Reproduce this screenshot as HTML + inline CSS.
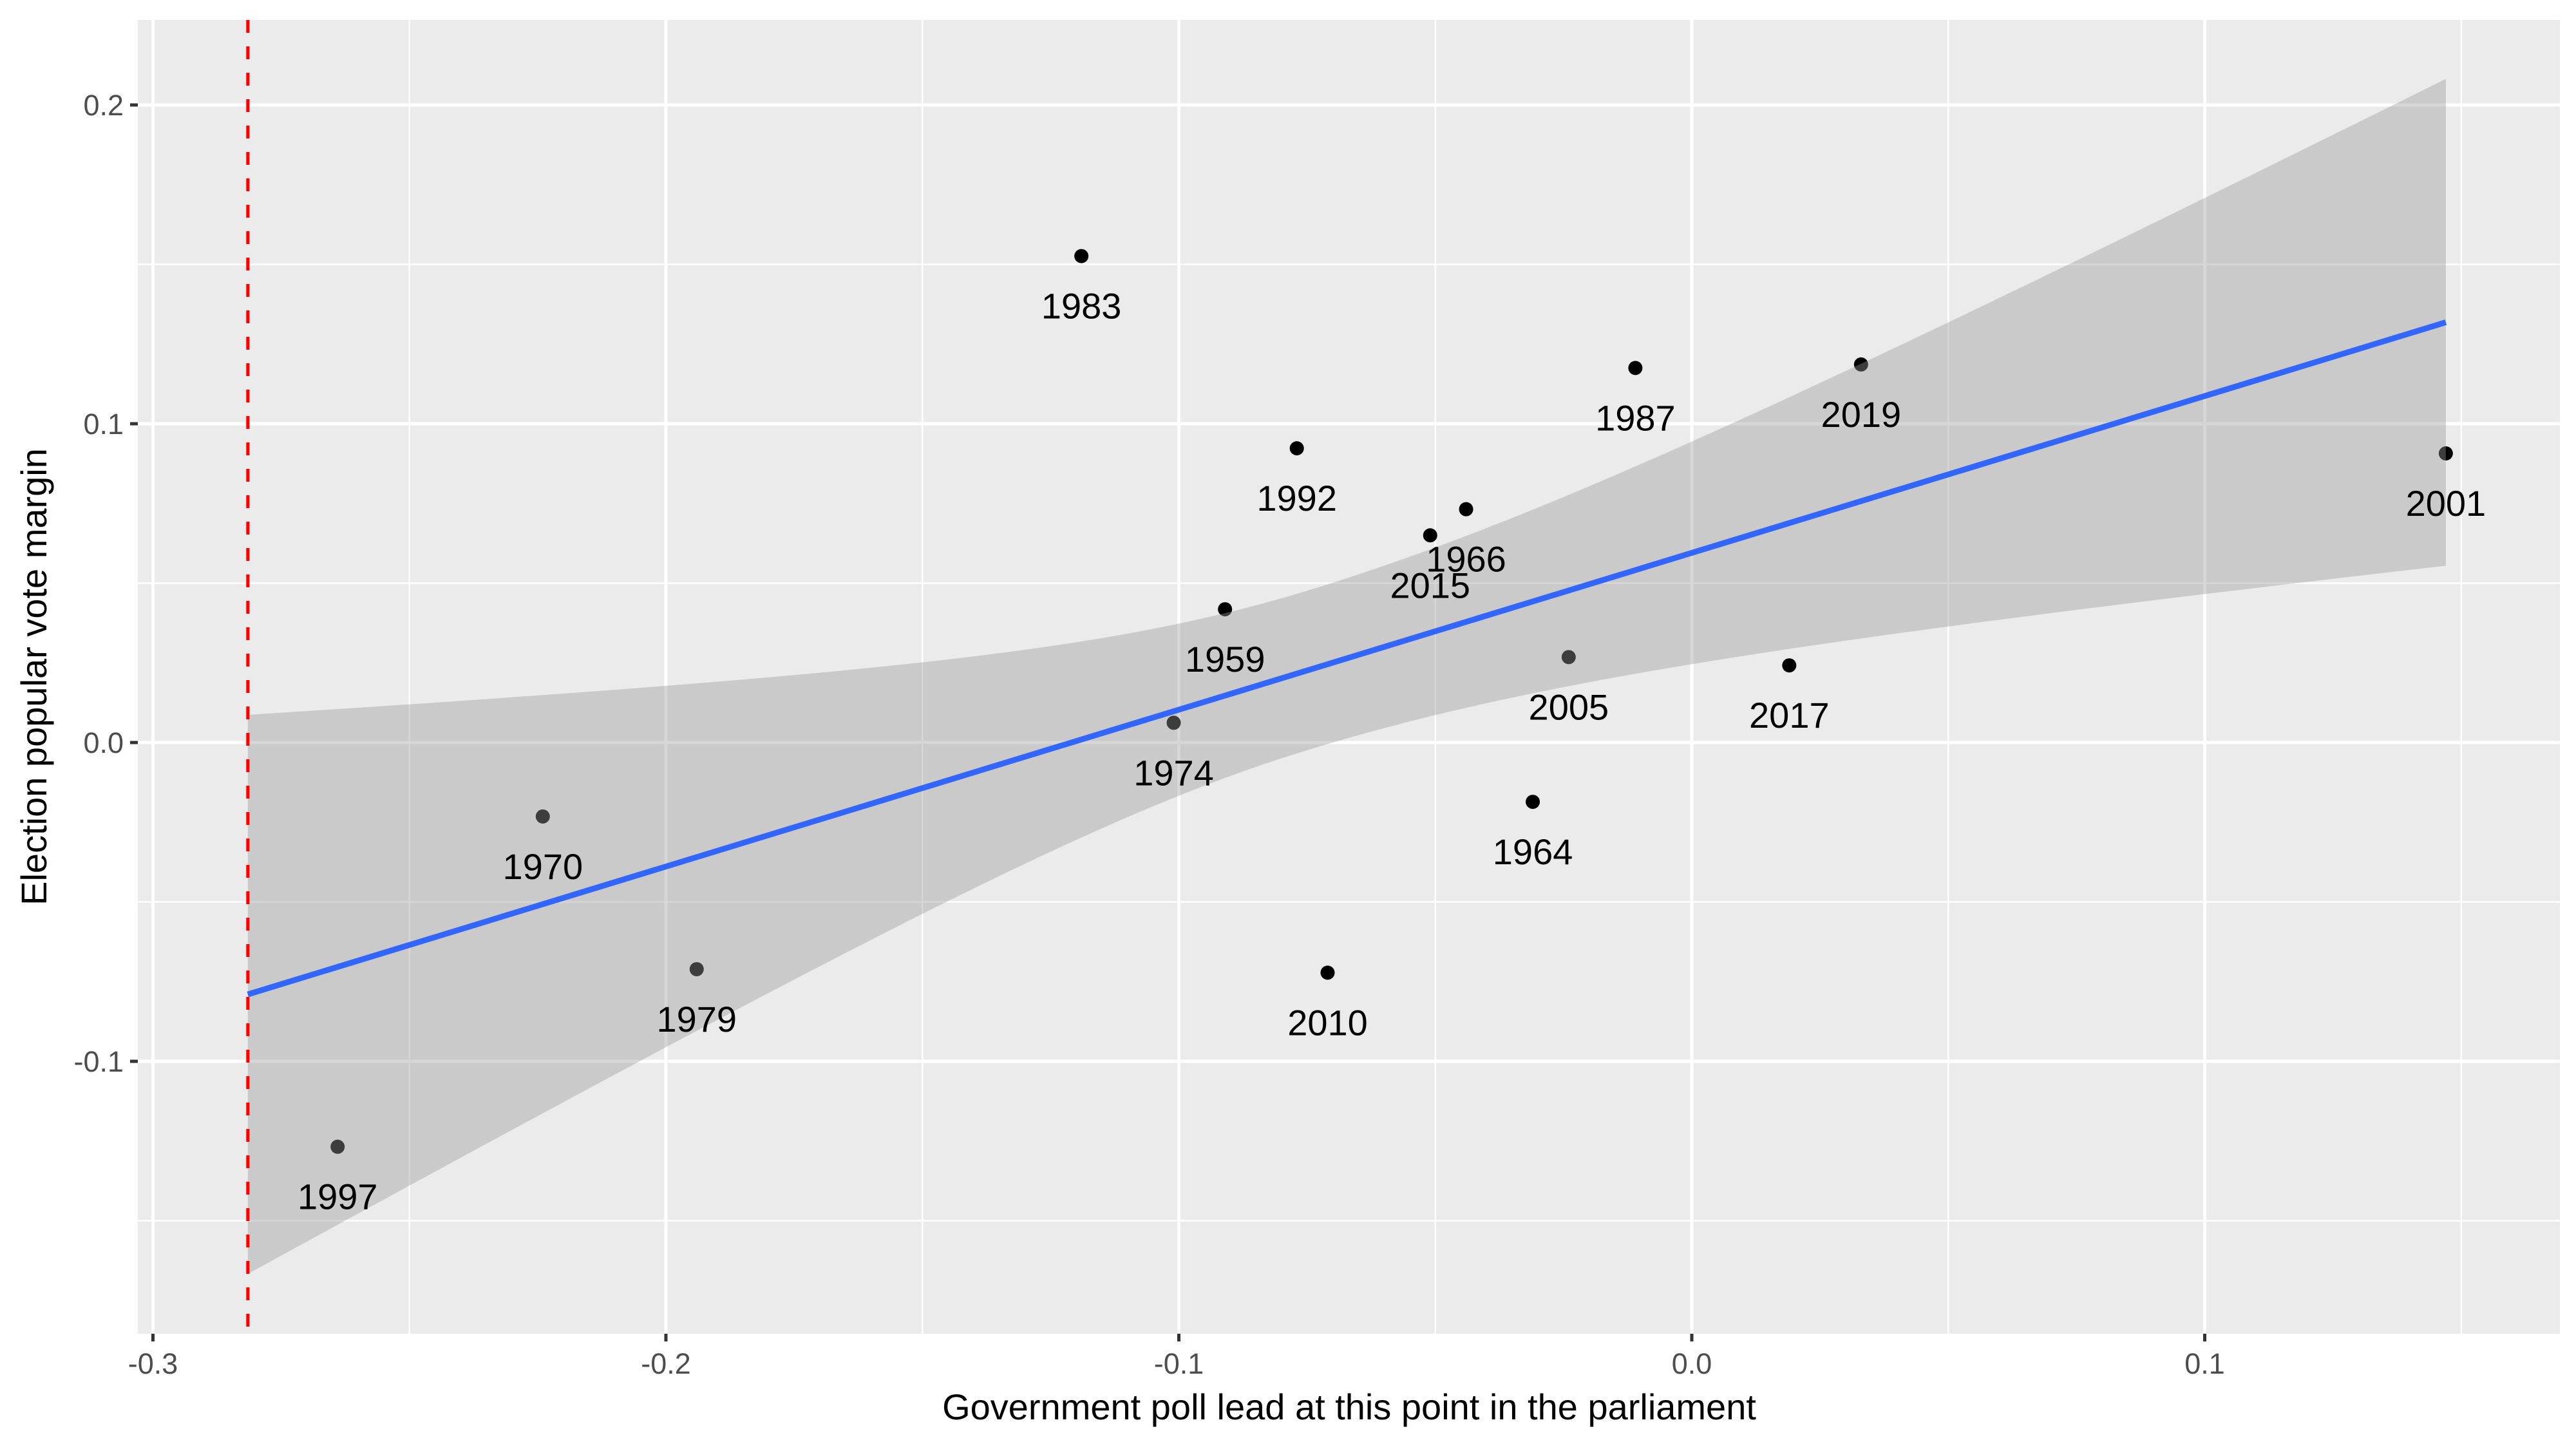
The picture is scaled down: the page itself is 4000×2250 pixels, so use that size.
<!DOCTYPE html>
<html><head><meta charset="utf-8"><style>
body{margin:0;background:#fff}
svg{display:block;font-family:"Liberation Sans",sans-serif}
</style></head><body>
<svg id="chart" width="4000" height="2250" viewBox="0 0 4000 2250">
<rect x="214" y="31" width="3761" height="2040" fill="#EBEBEB"/>
<g id="grid"></g>
<g id="points"></g>
<g id="fit"></g>
<g id="labels"></g>
<g id="axes"></g>
<text x="2095" y="2204" font-size="56" text-anchor="middle" fill="#000">Government poll lead at this point in the parliament</text>
<text transform="translate(72,1051) rotate(-90)" font-size="56" text-anchor="middle" fill="#000">Election popular vote margin</text>
</svg>
<script>
const years = ["1983","1987","2019","1992","2001","1966","2015","1959","2005","2017","1974","1964","1970","1979","2010","1997"];
const pollLead = [-0.119,-0.011,0.033,-0.077,0.147,-0.044,-0.051,-0.091,-0.024,0.019,-0.101,-0.031,-0.224,-0.194,-0.071,-0.264];
const voteMargin = [0.1526,0.1175,0.1186,0.0923,0.0907,0.0732,0.065,0.0418,0.0268,0.0242,0.0062,-0.0186,-0.0232,-0.0711,-0.0722,-0.1268];
const xTicks = [-0.3,-0.2,-0.1,0.0,0.1];
const xTickLabels = ["-0.3","-0.2","-0.1","0.0","0.1"];
const xMinor = [-0.25,-0.15,-0.05,0.05,0.15];
const yTicks = [-0.1,0.0,0.1,0.2];
const yTickLabels = ["-0.1","0.0","0.1","0.2"];
const yMinor = [-0.15,-0.05,0.05,0.15];
const vlineX = [-0.2815];
const fitRange = [-0.2815,0.147];
const fitCoef = [0.0595,0.492];
const bandParams = [-0.075,0.025,0.407,0.325];

const NS="http://www.w3.org/2000/svg";
const PL=214,PR=3975,PT=31,PB=2071;
const sx=v=>2627+v*7965;
const sy=v=>1153-v*4950;
function mk(tag,attrs,parent){const e=document.createElementNS(NS,tag);for(const k in attrs)e.setAttribute(k,attrs[k]);parent.appendChild(e);return e;}
const grid=document.getElementById('grid');
xMinor.forEach(v=>{const e=mk('line',{x1:sx(v),x2:sx(v),y1:PT,y2:PB,stroke:'#fff','stroke-width':2.5},grid);

});
yMinor.forEach(v=>{const e=mk('line',{x1:PL,x2:PR,y1:sy(v),y2:sy(v),stroke:'#fff','stroke-width':2.5},grid);

});
xTicks.forEach(v=>{const e=mk('line',{x1:sx(v),x2:sx(v),y1:PT,y2:PB,stroke:'#fff','stroke-width':5},grid);

});
yTicks.forEach(v=>{const e=mk('line',{x1:PL,x2:PR,y1:sy(v),y2:sy(v),stroke:'#fff','stroke-width':5},grid);

});

const pts=document.getElementById('points');
pollLead.forEach((x,i)=>{const c=mk('circle',{cx:sx(x),cy:sy(voteMargin[i]),r:11,fill:'#000'},pts);

});

const fit=document.getElementById('fit');
const line=x=>fitCoef[0]+fitCoef[1]*x;
const hw=x=>{const c=x<bandParams[0]?bandParams[2]:bandParams[3];return Math.sqrt(bandParams[1]**2+(c*(x-bandParams[0]))**2);};
let up=[],lo=[];
for(let k=0;k<=80;k++){const x=fitRange[0]+(fitRange[1]-fitRange[0])*k/80;up.push(sx(x)+','+sy(line(x)+hw(x)));lo.unshift(sx(x)+','+sy(line(x)-hw(x)));}
const band=mk('polygon',{points:up.concat(lo).join(' '),fill:'#999999','fill-opacity':0.4},fit);


const vl=mk('line',{x1:sx(vlineX[0]),x2:sx(vlineX[0]),y1:PT,y2:PB,stroke:'#FF0000','stroke-width':5,'stroke-dasharray':'20 21'},fit);


const fl=mk('line',{x1:sx(fitRange[0]),y1:sy(line(fitRange[0])),x2:sx(fitRange[1]),y2:sy(line(fitRange[1])),stroke:'#3366FF','stroke-width':9},fit);



const lab=document.getElementById('labels');
pollLead.forEach((x,i)=>{const t=mk('text',{x:sx(x),y:sy(voteMargin[i])+97,'font-size':56,'text-anchor':'middle',fill:'#000'},lab);
t.textContent=years[i];

});

const ax=document.getElementById('axes');
xTicks.forEach((v,i)=>{const l=mk('line',{x1:sx(v),x2:sx(v),y1:PB,y2:PB+12,stroke:'#333','stroke-width':5},ax);


const t=mk('text',{x:sx(v),y:PB+62,'font-size':45,'text-anchor':'middle',fill:'#4D4D4D'},ax);
t.textContent=xTickLabels[i];

});
yTicks.forEach((v,i)=>{const l=mk('line',{x1:PL-12,x2:PL,y1:sy(v),y2:sy(v),stroke:'#333','stroke-width':5},ax);


const t=mk('text',{x:PL-22,y:sy(v)+16,'font-size':45,'text-anchor':'end',fill:'#4D4D4D'},ax);
t.textContent=yTickLabels[i];

});
</script>
</body></html>
